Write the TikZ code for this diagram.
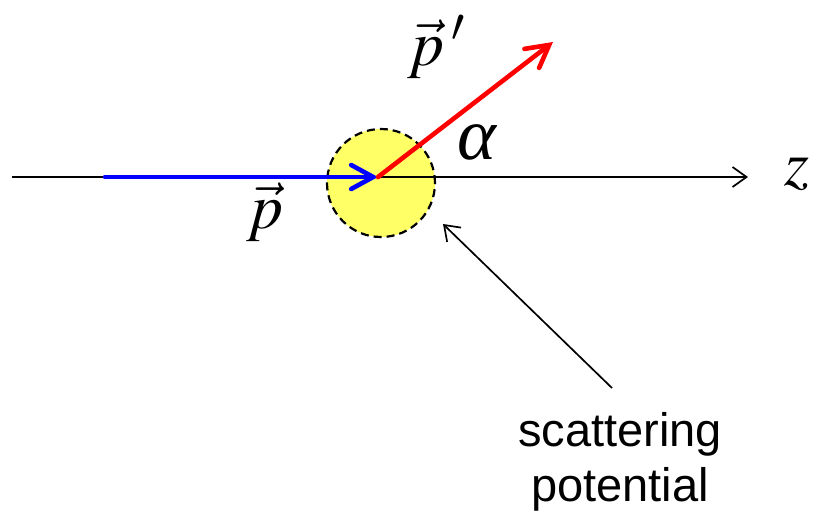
\documentclass[tikz,border=0pt]{standalone}
\usepackage{mathptmx}
\usepackage{fontspec}
\setmainfont{Liberation Sans}
\newfontfamily\serifit{Liberation Serif}
\usetikzlibrary{arrows.meta}
\definecolor{blue}{HTML}{0000FF}
\definecolor{red}{HTML}{FF0000}
\definecolor{potyellow}{HTML}{FFFF66}

\begin{document}
\begin{tikzpicture}[x=0.5pt,y=-0.5pt,
mom/.style={line width=2.3pt,line cap=round,-{Straight Barb[length=11pt,width=12pt,line cap=round]}},
thin/.style={line width=0.85pt,-{Straight Barb[length=7pt,width=10pt]}},
lbl/.style={font=\fontsize{32}{34}\selectfont,inner sep=0pt}]
 \useasboundingbox (0,0) rectangle (813,515);
 \node[circle,draw,dash pattern=on 4pt off 2.5pt,line width=1.1pt,fill=potyellow,minimum size=54pt,inner sep=0pt] (pot) at (381,183) {};
 \coordinate (axisL) at (12,177);
 \coordinate (axisR) at (748,177);
 \coordinate (O) at (378,177);
 \coordinate (pin) at (105,177);
 \coordinate (pout) at (553,42);
 \coordinate (ptr) at (612,388);
 \coordinate (ptrtip) at (443,224);
 \draw[thin] (axisL) -- (axisR);
 \draw[mom,blue] (pin) -- (O);
 \draw[mom,red] (O) -- (pout);
 \draw[thin] (ptr) -- (ptrtip);
 \node[lbl] (plabel) at (265,212) {$\vec{p}$};
 \node[lbl] (pplabel) at (437,47) {$\vec{p}\,'$};
 \node[lbl,font=\fontsize{37}{40}\selectfont] (alabel) at (477,142) {\serifit\itshape α};
 \node[lbl] (zlabel) at (797,174) {$z$};
 \node[align=center,font=\fontsize{23.5}{27.5}\selectfont] (potlabel) at (620,462) {scattering\\potential};
\end{tikzpicture}
\end{document}
